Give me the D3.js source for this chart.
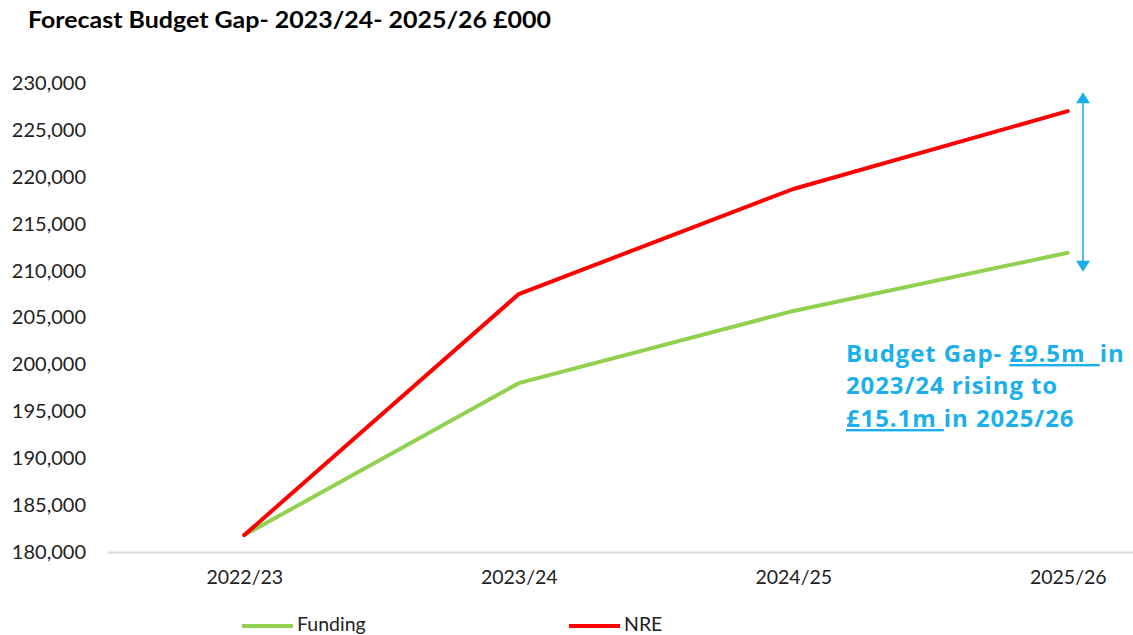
<!DOCTYPE html>
<html><head><meta charset="utf-8">
<script src="https://cdn.jsdelivr.net/npm/d3@7"></script>
<style>
body{margin:0;background:#fff;}
svg{display:block;}
text{font-family:Lato, "Open Sans", sans-serif;}
</style></head>
<body><svg id="c" width="1133" height="635"></svg>
<script>
const categories = ["2022/23","2023/24","2024/25","2025/26"];
const funding = [181800, 198000, 205700, 211900];
const nre = [181800, 207500, 218700, 227000];
const yTicks = [180000,185000,190000,195000,200000,205000,210000,215000,220000,225000,230000];
const seriesNames = ["Funding","NRE"];
const seriesColors = ["#92D050","#FF0000"];
const title = "Forecast Budget Gap- 2023/24- 2025/26 £000";

const svg = d3.select("#c");
const x = d3.scalePoint().domain(categories).range([107,1205]).padding(0.5);
const y = d3.scaleLinear().domain([180000,230000]).range([552,83]);

svg.append("text").attr("x",28).attr("y",28).attr("font-weight","bold")
  .attr("font-size",23).attr("fill","#000")
  .attr("textLength",523).attr("lengthAdjust","spacingAndGlyphs").text(title);

// y axis labels
const yAxis = d3.axisLeft(y).tickValues(yTicks).tickSize(0).tickPadding(0).tickFormat(d3.format(","));
const ya = svg.append("g").attr("transform","translate(86,0)").call(yAxis);
ya.select(".domain").remove();
ya.selectAll("text").attr("font-size",20).attr("fill","#222");

// x axis
const xAxis = d3.axisBottom(x).tickSize(0).tickPadding(18);
const xa = svg.append("g").attr("transform","translate(0,552)").call(xAxis);
xa.select(".domain").attr("stroke","#d9d9d9").attr("stroke-width",2);
xa.selectAll("text").attr("font-size",19.5).attr("fill","#222");

const line = d3.line().x((d,i)=>x(categories[i])).y(d=>y(d));
[funding,nre].forEach((s,k)=>{
  svg.append("path").datum(s).attr("d",line).attr("fill","none")
    .attr("stroke",seriesColors[k]).attr("stroke-width",4).attr("stroke-linejoin","round").attr("stroke-linecap","round");
});

// gap arrow
const ax = 1083;
const yTop = y(nre[3]) - 19, yBot = y(funding[3]) + 19;
svg.append("line").attr("x1",ax).attr("x2",ax).attr("y1",yTop+8).attr("y2",yBot-8)
  .attr("stroke","#4CC2F2").attr("stroke-width",2);
svg.append("path").attr("d",`M${ax},${yTop} L${ax-7},${yTop+11} L${ax+7},${yTop+11}Z`).attr("fill","#1AAEEA");
svg.append("path").attr("d",`M${ax},${yBot} L${ax-7},${yBot-11} L${ax+7},${yBot-11}Z`).attr("fill","#1AAEEA");

// annotation
const ann = svg.append("text").attr("fill","#1CB0EB")
  .style("font-family","'Open Sans', sans-serif").style("font-weight","bold").style("font-size","24px")
  .style("letter-spacing","0.9px").style("white-space","pre");
const l1 = ann.append("tspan").attr("x",846).attr("y",362);
l1.append("tspan").text("Budget Gap- ");
l1.append("tspan").attr("text-decoration","underline").text("£9.5m  ");
l1.append("tspan").text("in");
ann.append("tspan").attr("x",846).attr("y",394).text("2023/24 rising to");
const l3 = ann.append("tspan").attr("x",846).attr("y",427);
l3.append("tspan").attr("text-decoration","underline").text("£15.1m ");
l3.append("tspan").text("in 2025/26");

// legend
const legX = [242, 569];
seriesNames.forEach((n,k)=>{
  svg.append("line").attr("x1",legX[k]).attr("x2",legX[k]+51).attr("y1",626).attr("y2",626)
    .attr("stroke",seriesColors[k]).attr("stroke-width",4);
  svg.append("text").attr("x",legX[k]+55).attr("y",631).attr("font-size",19.5).attr("fill","#222").text(n);
});
</script></body></html>
